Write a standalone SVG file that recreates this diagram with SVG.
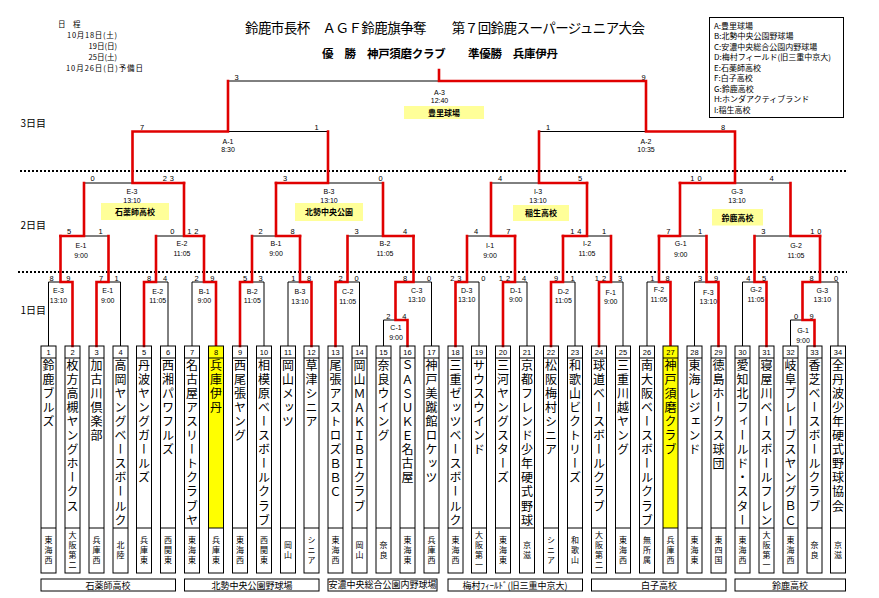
<svg xmlns="http://www.w3.org/2000/svg" xmlns:xlink="http://www.w3.org/1999/xlink" width="879" height="598" viewBox="0 0 879 598">
<style>
.jp{font-family:"Noto Sans CJK JP","Noto Sans CJK SC",sans-serif;fill:#000}
.sc{font-family:"Liberation Sans",Arial,sans-serif;font-size:7.5px;text-anchor:middle;fill:#000}
.sc2{letter-spacing:3px}
.lb{font-family:"Liberation Sans",Arial,sans-serif;font-size:7px;text-anchor:middle;fill:#000}
.bk{stroke:#000;stroke-width:1;fill:none}
.rd{stroke:#e00000;stroke-width:2.6;fill:none;stroke-linecap:square;stroke-linejoin:miter}
.dot{stroke:#000;stroke-width:2;stroke-dasharray:2 2;fill:none}
.no{font-family:"Liberation Sans",Arial,sans-serif;font-size:7.5px;text-anchor:middle}
.nm{font-family:"Noto Sans CJK JP",sans-serif;font-size:12px;writing-mode:vertical-rl;text-orientation:upright;letter-spacing:2.1px}
.pf{font-family:"Noto Sans CJK JP",sans-serif;font-size:8px;writing-mode:vertical-rl;text-orientation:upright;letter-spacing:2px;text-anchor:middle}
.yb{fill:#ffff99}
.yt{font-family:"Noto Sans CJK JP",sans-serif;font-size:8px;font-weight:bold;text-anchor:middle}
.vn{font-family:"Noto Sans CJK JP",sans-serif;font-size:9px;text-anchor:middle}
.sd{font-family:"Noto Sans CJK JP",sans-serif;font-size:7.5px;fill:#000}
</style>
<defs>
<g id="fr"><rect x="0" y="346" width="15" height="227" class="bk"/><path d="M0 358H15M0 528H15" class="bk"/></g>
</defs>
<rect width="879" height="598" fill="#fff"/>

<g id="header">
<text class="jp" x="245" y="32.5" font-size="13.5" textLength="400" lengthAdjust="spacing">鈴鹿市長杯　ＡＧＦ鈴鹿旗争奪　　第７回鈴鹿スーパージュニア大会</text>
<text class="jp" x="322" y="57.5" font-size="11.5" font-weight="bold" textLength="236" lengthAdjust="spacing">優　勝　神戸須磨クラブ　　準優勝　兵庫伊丹</text>
<text class="sd" x="58" y="26.5">日　程</text>
<text class="sd" x="117" y="37.5" text-anchor="end" textLength="50" lengthAdjust="spacing">10月18日(土)</text>
<text class="sd" x="117" y="48.5" text-anchor="end">19日(日)</text>
<text class="sd" x="117" y="59.5" text-anchor="end">25日(土)</text>
<text class="sd" x="66" y="70.5" textLength="77" lengthAdjust="spacing">10月26日(日)予備日</text>
<text class="jp" x="20.5" y="127" font-size="10">3日目</text>
<text class="jp" x="20.5" y="229" font-size="10">2日目</text>
<text class="jp" x="20.5" y="314" font-size="10">1日目</text>
</g>

<g id="legend">
<rect x="709.5" y="17.5" width="134" height="100" fill="#fff" stroke="#000"/>
<g class="jp" font-size="8">
<text x="714" y="28.7">A:豊里球場</text>
<text x="714" y="39.2">B:北勢中央公園野球場</text>
<text x="714" y="49.7">C:安濃中央総合公園内野球場</text>
<text x="714" y="60.2">D:梅村フィールド(旧三重中京大)</text>
<text x="714" y="70.7">E:石薬師高校</text>
<text x="714" y="81.2">F:白子高校</text>
<text x="714" y="91.7">G:鈴鹿高校</text>
<text x="714" y="102.2">H:ホンダアクティブランド</text>
<text x="714" y="112.7">I:稲生高校</text>
</g>
</g>

<g id="day-separators">
<path class="dot" d="M20 171H846M18 272H847"/>
</g>

<g id="venue-labels">
<rect class="yb" x="404" y="106" width="80" height="13"/>
<text class="yt" x="444" y="115.8">豊里球場</text>
<rect class="yb" x="101" y="203" width="68" height="17"/>
<text class="yt" x="135" y="214.5">石薬師高校</text>
<rect class="yb" x="295" y="203" width="68" height="18"/>
<text class="yt" x="329" y="215">北勢中央公園</text>
<rect class="yb" x="513" y="205" width="56" height="16"/>
<text class="yt" x="541" y="216">稲生高校</text>
<rect class="yb" x="712" y="209" width="51" height="16.5"/>
<text class="yt" x="737.5" y="220.5">鈴鹿高校</text>
</g>

<g id="connectors">
<path class="bk" d="M48.5 282H72.5M96.5 282H120.5M144 282H168M192 282H216M240 282H264M288 282H311.5M335.5 282H359.5M395.5 282H431.5M455.5 282H479M503 282H527M551 282H575M599 282H623M647 282H670.5M694.5 282H718.5M742.5 282H766.5M802.5 282H838M383.5 320H407.5M790.5 320H814.5M60.5 236H108.5M156 236H204M252 236H300M347.5 236H413.5M467 236H515M563 236H611M659 236H706.5M754.5 236H820M84 183H184M276 183H383M491 183H587M680 183H790.5M132.5 131.5H328M539 131.5H735M228 81H646"/>
<path class="bk" d="M48.5 346V282M120.5 346V282M168 346V282M192 346V282M264 346V282M288 346V282M359.5 346V282M383.5 346V320M431.5 346V282M479 346V282M527 346V282M575 346V282M623 346V282M647 346V282M694.5 346V282M742.5 346V282M790.5 346V320M838 346V282"/>
<path class="rd" d="M72.5 346V282H60.5V236M96.5 346V282H108.5V236M144 346V282H156V236M216 346V282H204V236M240 346V282H252V236M311.5 346V282H300V236M335.5 346V282H347.5V236M407.5 346V320H395.5V282M395.5 282H413.5V236M455.5 346V282H467V236M503 346V282H515V236M551 346V282H563V236M599 346V282H611V236M670.5 346V282H659V236M718.5 346V282H706.5V236M766.5 346V282H754.5V236M814.5 346V320H802.5V282M802.5 282H820V236"/>
<path class="rd" d="M60.5 236H84V183M204 236H184V183M300 236H276V183M413.5 236H383V183M515 236H491V183M563 236H587V183M659 236H680V183M820 236H790.5V183"/>
<path class="rd" d="M184 183H132.5V131.5M276 183H328V131.5M587 183H539V131.5M680 183H735V131.5M132.5 131.5H228V81M735 131.5H646V81M646 81H439V70"/>
</g>

<g id="scores">
<text class="sc" x="236.5" y="79.5">3</text><text class="sc" x="643.5" y="79.5">9</text>
<text class="sc" x="142" y="130">7</text><text class="sc" x="316.5" y="130">1</text>
<text class="sc" x="548" y="130">1</text><text class="sc" x="723" y="130">8</text>
<text class="sc" x="92.7" y="181.3">0</text><text class="sc sc2" x="169.8" y="181.3">23</text>
<text class="sc" x="285" y="181.3">3</text><text class="sc" x="380.7" y="181.3">0</text>
<text class="sc" x="500" y="181.3">4</text><text class="sc" x="580" y="181.3">5</text>
<text class="sc sc2" x="697.5" y="181.3">10</text><text class="sc" x="771.7" y="181.3">4</text>
<text class="sc" x="69" y="234">5</text><text class="sc" x="100.7" y="234">1</text>
<text class="sc" x="172.3" y="234">0</text><text class="sc sc2" x="194.3" y="234">12</text>
<text class="sc" x="260.7" y="234">2</text><text class="sc" x="292.7" y="234">8</text>
<text class="sc" x="356.7" y="234">3</text><text class="sc" x="405" y="234">4</text>
<text class="sc" x="476" y="234">4</text><text class="sc" x="508.3" y="234">7</text>
<text class="sc sc2" x="577.3" y="234">14</text><text class="sc" x="604" y="234">1</text>
<text class="sc" x="668.3" y="234">7</text><text class="sc" x="700" y="234">1</text>
<text class="sc" x="763.3" y="234">3</text><text class="sc sc2" x="817.3" y="234">10</text>
<text class="sc" x="51.7" y="281">8</text><text class="sc" x="68.3" y="281">9</text>
<text class="sc" x="101" y="281">7</text><text class="sc" x="116.7" y="281">1</text>
<text class="sc" x="149" y="281">8</text><text class="sc" x="165" y="281">4</text>
<text class="sc" x="196.7" y="281">2</text><text class="sc" x="212.3" y="281">9</text>
<text class="sc" x="245" y="281">5</text><text class="sc" x="260.7" y="281">3</text>
<text class="sc" x="293.3" y="281">1</text><text class="sc" x="309" y="281">8</text>
<text class="sc" x="340.7" y="281">2</text><text class="sc" x="356.7" y="281">0</text>
<text class="sc" x="405" y="281">8</text><text class="sc" x="429" y="281">0</text>
<text class="sc sc2" x="457.3" y="281">23</text><text class="sc" x="483.3" y="281">0</text>
<text class="sc sc2" x="506" y="281">12</text><text class="sc" x="524" y="281">4</text>
<text class="sc" x="556" y="281">9</text><text class="sc" x="572.7" y="281">1</text>
<text class="sc sc2" x="602" y="281">12</text><text class="sc" x="620" y="281">3</text>
<text class="sc" x="652.3" y="281">1</text><text class="sc" x="667.7" y="281">8</text>
<text class="sc" x="700" y="281">3</text><text class="sc" x="716" y="281">9</text>
<text class="sc" x="748.3" y="281">4</text><text class="sc" x="764" y="281">5</text>
<text class="sc" x="811.7" y="281">8</text><text class="sc" x="836" y="281">0</text>
<text class="sc" x="388.3" y="318.5">2</text><text class="sc" x="404.3" y="318.5">4</text>
<text class="sc" x="796" y="318.5">0</text><text class="sc" x="811.7" y="318.5">9</text>
</g>

<g id="match-labels">
<text class="lb" x="439.5" y="95">A-3</text><text class="lb" x="439.5" y="103">12:40</text>
<text class="lb" x="228" y="144">A-1</text><text class="lb" x="228" y="152">8:30</text>
<text class="lb" x="646" y="144">A-2</text><text class="lb" x="646" y="152">10:35</text>
<text class="lb" x="132" y="193.5">E-3</text><text class="lb" x="132" y="203">13:10</text>
<text class="lb" x="329" y="193.5">B-3</text><text class="lb" x="329" y="203">13:10</text>
<text class="lb" x="538" y="193.5">I-3</text><text class="lb" x="538" y="203">13:10</text>
<text class="lb" x="737" y="193.5">G-3</text><text class="lb" x="737" y="203">13:10</text>
<text class="lb" x="81" y="248">E-1</text><text class="lb" x="81" y="258">9:00</text>
<text class="lb" x="182" y="246">E-2</text><text class="lb" x="182" y="256">11:05</text>
<text class="lb" x="276" y="245.5">B-1</text><text class="lb" x="276" y="255.5">9:00</text>
<text class="lb" x="385" y="245.5">B-2</text><text class="lb" x="385" y="255.5">11:05</text>
<text class="lb" x="490" y="248">I-1</text><text class="lb" x="490" y="258">9:00</text>
<text class="lb" x="587" y="246">I-2</text><text class="lb" x="587" y="256">11:05</text>
<text class="lb" x="680.7" y="246">G-1</text><text class="lb" x="680.7" y="256.5">9:00</text>
<text class="lb" x="796" y="248">G-2</text><text class="lb" x="796" y="258">11:05</text>
<text class="lb" x="58.5" y="293">E-3</text><text class="lb" x="58.5" y="302.5">13:10</text>
<text class="lb" x="107.7" y="293">E-1</text><text class="lb" x="107.7" y="302.5">9:00</text>
<text class="lb" x="157.7" y="293.5">E-2</text><text class="lb" x="157.7" y="303">11:05</text>
<text class="lb" x="204.3" y="293.5">B-1</text><text class="lb" x="204.3" y="303">9:00</text>
<text class="lb" x="252.3" y="293.5">B-2</text><text class="lb" x="252.3" y="303">11:05</text>
<text class="lb" x="300" y="294">B-3</text><text class="lb" x="300" y="304">13:10</text>
<text class="lb" x="347.7" y="294">C-2</text><text class="lb" x="347.7" y="304">11:05</text>
<text class="lb" x="416.7" y="293">C-3</text><text class="lb" x="416.7" y="302">13:10</text>
<text class="lb" x="396" y="330">C-1</text><text class="lb" x="396" y="340">9:00</text>
<text class="lb" x="466.7" y="293">D-3</text><text class="lb" x="466.7" y="302">13:10</text>
<text class="lb" x="515.7" y="293">D-1</text><text class="lb" x="515.7" y="302">9:00</text>
<text class="lb" x="563.3" y="294">D-2</text><text class="lb" x="563.3" y="303">11:05</text>
<text class="lb" x="610.7" y="295">F-1</text><text class="lb" x="610.7" y="304">9:00</text>
<text class="lb" x="659" y="292">F-2</text><text class="lb" x="659" y="302">11:05</text>
<text class="lb" x="708.3" y="295">F-3</text><text class="lb" x="708.3" y="304">13:10</text>
<text class="lb" x="756" y="292">G-2</text><text class="lb" x="756" y="302">11:05</text>
<text class="lb" x="822.3" y="293">G-3</text><text class="lb" x="822.3" y="302">13:10</text>
<text class="lb" x="803" y="332.5">G-1</text><text class="lb" x="803" y="342.5">9:00</text>
</g>

<g id="teams">
<g id="team-1" transform="translate(41 0)"><use href="#fr"/><text class="no" x="7.5" y="355">1</text><text class="nm" x="7.5" y="359">鈴鹿ブルズ</text><text class="pf" x="7.5" y="551">東海西</text></g>
<g id="team-2" transform="translate(65 0)"><use href="#fr"/><text class="no" x="7.5" y="355">2</text><text class="nm" x="7.5" y="359">枚方高槻ヤングホークス</text><text class="pf" x="7.5" y="551">大阪第二</text></g>
<g id="team-3" transform="translate(89 0)"><use href="#fr"/><text class="no" x="7.5" y="355">3</text><text class="nm" x="7.5" y="359">加古川倶楽部</text><text class="pf" x="7.5" y="551">兵庫西</text></g>
<g id="team-4" transform="translate(113 0)"><use href="#fr"/><text class="no" x="7.5" y="355">4</text><text class="nm" x="7.5" y="359">高岡ヤングベースボールク</text><text class="pf" x="7.5" y="551">北陸</text></g>
<g id="team-5" transform="translate(136.5 0)"><use href="#fr"/><text class="no" x="7.5" y="355">5</text><text class="nm" x="7.5" y="359">丹波ヤングガールズ</text><text class="pf" x="7.5" y="551">兵庫東</text></g>
<g id="team-6" transform="translate(160.5 0)"><use href="#fr"/><text class="no" x="7.5" y="355">6</text><text class="nm" x="7.5" y="359">西湘パワフルズ</text><text class="pf" x="7.5" y="551">西関東</text></g>
<g id="team-7" transform="translate(184.5 0)"><use href="#fr"/><text class="no" x="7.5" y="355">7</text><text class="nm" x="7.5" y="359">名古屋アスリートクラブヤ</text><text class="pf" x="7.5" y="551">東海東</text></g>
<g id="team-8" transform="translate(208.5 0)"><rect x="0" y="346" width="15" height="182" fill="#ffff00"/><use href="#fr"/><text class="no" x="7.5" y="355">8</text><text class="nm" x="7.5" y="359">兵庫伊丹</text><text class="pf" x="7.5" y="551">兵庫東</text></g>
<g id="team-9" transform="translate(232.5 0)"><use href="#fr"/><text class="no" x="7.5" y="355">9</text><text class="nm" x="7.5" y="359">西尾張ヤング</text><text class="pf" x="7.5" y="551">東海西</text></g>
<g id="team-10" transform="translate(256.5 0)"><use href="#fr"/><text class="no" x="7.5" y="355">10</text><text class="nm" x="7.5" y="359">相模原ベースボールクラブ</text><text class="pf" x="7.5" y="551">西関東</text></g>
<g id="team-11" transform="translate(280.5 0)"><use href="#fr"/><text class="no" x="7.5" y="355">11</text><text class="nm" x="7.5" y="359">岡山メッツ</text><text class="pf" x="7.5" y="551">岡山</text></g>
<g id="team-12" transform="translate(304 0)"><use href="#fr"/><text class="no" x="7.5" y="355">12</text><text class="nm" x="7.5" y="359">草津シニア</text><text class="pf" x="7.5" y="551">シニア</text></g>
<g id="team-13" transform="translate(328 0)"><use href="#fr"/><text class="no" x="7.5" y="355">13</text><text class="nm" x="7.5" y="359">尾張アストロズＢＢＣ</text><text class="pf" x="7.5" y="551">東海西</text></g>
<g id="team-14" transform="translate(352 0)"><use href="#fr"/><text class="no" x="7.5" y="355">14</text><text class="nm" x="7.5" y="359">岡山ＭＡＫＩＢＩクラブ</text><text class="pf" x="7.5" y="551">岡山</text></g>
<g id="team-15" transform="translate(376 0)"><use href="#fr"/><text class="no" x="7.5" y="355">15</text><text class="nm" x="7.5" y="359">奈良ウイング</text><text class="pf" x="7.5" y="551">奈良</text></g>
<g id="team-16" transform="translate(400 0)"><use href="#fr"/><text class="no" x="7.5" y="355">16</text><text class="nm" x="7.5" y="359">ＳＡＳＵＫＥ名古屋</text><text class="pf" x="7.5" y="551">東海東</text></g>
<g id="team-17" transform="translate(424 0)"><use href="#fr"/><text class="no" x="7.5" y="355">17</text><text class="nm" x="7.5" y="359">神戸美蹴館ロケッツ</text><text class="pf" x="7.5" y="551">兵庫西</text></g>
<g id="team-18" transform="translate(448 0)"><use href="#fr"/><text class="no" x="7.5" y="355">18</text><text class="nm" x="7.5" y="359">三重ゼッツベースボールク</text><text class="pf" x="7.5" y="551">東海西</text></g>
<g id="team-19" transform="translate(471.5 0)"><use href="#fr"/><text class="no" x="7.5" y="355">19</text><text class="nm" x="7.5" y="359">サウスウインド</text><text class="pf" x="7.5" y="551">大阪第一</text></g>
<g id="team-20" transform="translate(495.5 0)"><use href="#fr"/><text class="no" x="7.5" y="355">20</text><text class="nm" x="7.5" y="359">三河ヤングスターズ</text><text class="pf" x="7.5" y="551">東海東</text></g>
<g id="team-21" transform="translate(519.5 0)"><use href="#fr"/><text class="no" x="7.5" y="355">21</text><text class="nm" x="7.5" y="359">京都フレンド少年硬式野球</text><text class="pf" x="7.5" y="551">京滋</text></g>
<g id="team-22" transform="translate(543.5 0)"><use href="#fr"/><text class="no" x="7.5" y="355">22</text><text class="nm" x="7.5" y="359">松阪梅村シニア</text><text class="pf" x="7.5" y="551">シニア</text></g>
<g id="team-23" transform="translate(567.5 0)"><use href="#fr"/><text class="no" x="7.5" y="355">23</text><text class="nm" x="7.5" y="359">和歌山ビクトリーズ</text><text class="pf" x="7.5" y="551">和歌山</text></g>
<g id="team-24" transform="translate(591.5 0)"><use href="#fr"/><text class="no" x="7.5" y="355">24</text><text class="nm" x="7.5" y="359">球道ベースボールクラブ</text><text class="pf" x="7.5" y="551">大阪第二</text></g>
<g id="team-25" transform="translate(615.5 0)"><use href="#fr"/><text class="no" x="7.5" y="355">25</text><text class="nm" x="7.5" y="359">三重川越ヤング</text><text class="pf" x="7.5" y="551">東海西</text></g>
<g id="team-26" transform="translate(639.5 0)"><use href="#fr"/><text class="no" x="7.5" y="355">26</text><text class="nm" x="7.5" y="359">南大阪ベースボールクラブ</text><text class="pf" x="7.5" y="551">無所属</text></g>
<g id="team-27" transform="translate(663 0)"><rect x="0" y="346" width="15" height="182" fill="#ffff00"/><use href="#fr"/><text class="no" x="7.5" y="355">27</text><text class="nm" x="7.5" y="359">神戸須磨クラブ</text><text class="pf" x="7.5" y="551">兵庫西</text></g>
<g id="team-28" transform="translate(687 0)"><use href="#fr"/><text class="no" x="7.5" y="355">28</text><text class="nm" x="7.5" y="359">東海レジェンド</text><text class="pf" x="7.5" y="551">東海東</text></g>
<g id="team-29" transform="translate(711 0)"><use href="#fr"/><text class="no" x="7.5" y="355">29</text><text class="nm" x="7.5" y="359">徳島ホークス球団</text><text class="pf" x="7.5" y="551">東四国</text></g>
<g id="team-30" transform="translate(735 0)"><use href="#fr"/><text class="no" x="7.5" y="355">30</text><text class="nm" x="7.5" y="359">愛知北フィールド・スター</text><text class="pf" x="7.5" y="551">東海西</text></g>
<g id="team-31" transform="translate(759 0)"><use href="#fr"/><text class="no" x="7.5" y="355">31</text><text class="nm" x="7.5" y="359">寝屋川ベースボールフレン</text><text class="pf" x="7.5" y="551">大阪第一</text></g>
<g id="team-32" transform="translate(783 0)"><use href="#fr"/><text class="no" x="7.5" y="355">32</text><text class="nm" x="7.5" y="359">岐阜ブレーブスヤングＢＣ</text><text class="pf" x="7.5" y="551">東海西</text></g>
<g id="team-33" transform="translate(807 0)"><use href="#fr"/><text class="no" x="7.5" y="355">33</text><text class="nm" x="7.5" y="359">香芝ベースボールクラブ</text><text class="pf" x="7.5" y="551">奈良</text></g>
<g id="team-34" transform="translate(830.5 0)"><use href="#fr"/><text class="no" x="7.5" y="355">34</text><text class="nm" x="7.5" y="359">全丹波少年硬式野球協会</text><text class="pf" x="7.5" y="551">京滋</text></g>
</g>

<g id="venues">
<g id="venue-E"><rect class="bk" x="41" y="579" width="134.5" height="12"/><text class="vn" x="108" y="588.5">石薬師高校</text></g>
<g id="venue-B"><rect class="bk" x="184.5" y="579" width="134.5" height="12"/><text class="vn" x="252" y="588.5">北勢中央公園野球場</text></g>
<g id="venue-C"><rect class="bk" x="328" y="579" width="109" height="12"/><text class="vn" x="382.5" y="588" font-size="8">安濃中央総合公園内野球場</text></g>
<g id="venue-D"><rect class="bk" x="448" y="579" width="134.5" height="12"/><text class="vn" x="515" y="588.5">梅村ﾌｨｰﾙﾄﾞ(旧三重中京大)</text></g>
<g id="venue-F"><rect class="bk" x="591.5" y="579" width="134.5" height="12"/><text class="vn" x="659" y="588.5">白子高校</text></g>
<g id="venue-G"><rect class="bk" x="735" y="579" width="110.5" height="12"/><text class="vn" x="790" y="588.5">鈴鹿高校</text></g>
</g>
</svg>
